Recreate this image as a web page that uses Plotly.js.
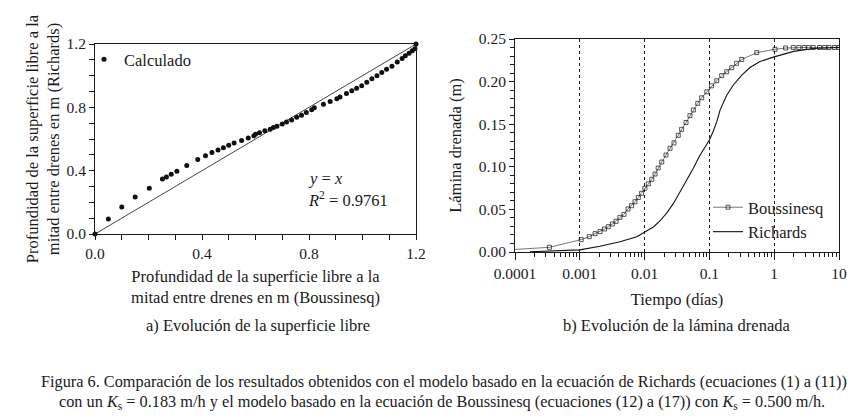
<!DOCTYPE html>
<html>
<head>
<meta charset="utf-8">
<script src="https://cdn.plot.ly/plotly-3.0.1.min.js"></script>
<style>
html,body{margin:0;padding:0;background:#fff;}
#chart{width:856px;height:418px;}
</style>
</head>
<body>
<div id="chart"></div>
<script>
// ---- Panel a) data: depth of free surface (Boussinesq vs Richards), m
const depthBoussinesq = [0.0, 0.05, 0.10, 0.15, 0.203, 0.252, 0.267, 0.285, 0.306, 0.343, 0.384, 0.413, 0.437, 0.46, 0.48, 0.50, 0.52, 0.548, 0.573, 0.594, 0.60, 0.615, 0.635, 0.655, 0.667, 0.68, 0.70, 0.716, 0.735, 0.754, 0.772, 0.79, 0.81, 0.82, 0.854, 0.879, 0.904, 0.916, 0.94, 0.96, 0.978, 0.997, 1.016, 1.035, 1.054, 1.072, 1.09, 1.11, 1.13, 1.148, 1.16, 1.174, 1.186, 1.196, 1.2];
const depthRichards   = [0.0, 0.095, 0.17, 0.234, 0.289, 0.347, 0.36, 0.378, 0.397, 0.433, 0.471, 0.494, 0.515, 0.53, 0.545, 0.56, 0.575, 0.59, 0.607, 0.62, 0.63, 0.64, 0.652, 0.662, 0.672, 0.68, 0.695, 0.708, 0.72, 0.737, 0.75, 0.767, 0.784, 0.797, 0.82, 0.837, 0.854, 0.865, 0.888, 0.905, 0.92, 0.937, 0.958, 0.98, 1.0, 1.02, 1.04, 1.06, 1.087, 1.108, 1.125, 1.142, 1.157, 1.17, 1.2];
const identityLine = [0, 1.2];

// ---- Panel b) data: drained depth (m) vs time (days)
const timeBoussinesq = [0.0001, 0.00034, 0.00105, 0.0014, 0.00172, 0.00205, 0.0024, 0.00275, 0.00318, 0.00363, 0.00417, 0.00481, 0.00555, 0.0063, 0.0071, 0.008, 0.009, 0.0101, 0.0114, 0.0129, 0.0145, 0.0162, 0.0184, 0.0214, 0.0247, 0.0284, 0.0331, 0.0373, 0.0436, 0.0501, 0.0565, 0.0661, 0.076, 0.0912, 0.108, 0.130, 0.155, 0.185, 0.221, 0.263, 0.316, 0.537, 1.03, 1.5, 1.97, 2.4, 2.9, 3.4, 4.0, 5.0, 6.0, 7.0, 8.5, 10];
const laminaBoussinesq = [0.003, 0.0055, 0.0145, 0.018, 0.0215, 0.024, 0.027, 0.0297, 0.0329, 0.036, 0.0407, 0.0442, 0.0505, 0.0543, 0.059, 0.064, 0.0689, 0.0748, 0.080, 0.0853, 0.0915, 0.0986, 0.1056, 0.1138, 0.1217, 0.128, 0.137, 0.144, 0.152, 0.160, 0.1667, 0.1745, 0.181, 0.188, 0.195, 0.201, 0.207, 0.2116, 0.2163, 0.2215, 0.226, 0.234, 0.238, 0.2394, 0.240, 0.240, 0.240, 0.240, 0.240, 0.240, 0.240, 0.240, 0.240, 0.240];
const timeRichards = [0.00017, 0.0005, 0.001, 0.00204, 0.00417, 0.0076, 0.01, 0.0138, 0.0174, 0.022, 0.0279, 0.0355, 0.0447, 0.0562, 0.0708, 0.0891, 0.1, 0.115, 0.130, 0.146, 0.164, 0.185, 0.234, 0.316, 0.423, 0.603, 1.0, 2.0, 3.98, 10];
const laminaRichards = [0.0003, 0.0012, 0.0025, 0.0068, 0.012, 0.018, 0.0235, 0.0297, 0.0367, 0.046, 0.057, 0.0708, 0.084, 0.098, 0.113, 0.126, 0.1315, 0.142, 0.153, 0.1665, 0.176, 0.184, 0.196, 0.2077, 0.2165, 0.2235, 0.229, 0.2355, 0.2388, 0.24];

const timeTickVals = [0.0001, 0.001, 0.01, 0.1, 1, 10];
const timeTickText = ['0.0001', '0.001', '0.01', '0.1', '1', '10'];

const SERIF = 'Liberation Serif, Times New Roman, serif';
const INK = '#1a1a1a';
const TS = 16.5;

const traces = [
  {
    x: identityLine, y: identityLine, xaxis: 'x', yaxis: 'y',
    mode: 'lines', line: {color: '#444', width: 1}, showlegend: false, hoverinfo: 'skip'
  },
  {
    x: depthBoussinesq, y: depthRichards, xaxis: 'x', yaxis: 'y',
    mode: 'markers', name: 'Calculado', legend: 'legend',
    marker: {color: '#111', size: 5, symbol: 'circle'}, cliponaxis: false
  },
  {
    x: timeBoussinesq, y: laminaBoussinesq, xaxis: 'x2', yaxis: 'y2',
    mode: 'lines+markers', name: 'Boussinesq', legend: 'legend2',
    line: {color: '#777', width: 1},
    marker: {symbol: 'square-open', color: '#111', size: timeBoussinesq.map((t, i) => i === 0 ? 0 : 4), line: {width: 1, color: '#111'}}
  },
  {
    x: timeRichards, y: laminaRichards, xaxis: 'x2', yaxis: 'y2',
    mode: 'lines', name: 'Richards', legend: 'legend2',
    line: {color: '#111', width: 1.1}
  }
];

const W = 856, H = 418;
const px = v => v / W, py = v => 1 - v / H;

const axisCommon = {
  showline: true, linecolor: INK, linewidth: 1, mirror: true,
  ticks: 'outside', ticklen: 5, tickwidth: 1, tickcolor: INK,
  showgrid: false, zeroline: false,
  tickfont: {family: SERIF, size: 15.5, color: INK}
};

const layout = {
  width: W, height: H,
  margin: {l: 0, r: 0, t: 0, b: 0},
  paper_bgcolor: '#fff', plot_bgcolor: '#fff',
  font: {family: SERIF, color: INK, size: TS},
  xaxis: Object.assign({}, axisCommon, {
    domain: [px(95), px(416)], range: [0, 1.2], anchor: 'y',
    tickvals: [0, 0.4, 0.8, 1.2], tickformat: '.1f',
    minor: {dtick: 0.1, ticklen: 5, tickcolor: INK, ticks: 'outside', showgrid: false},
    title: {text: 'Profundidad de la superficie libre a la<br>mitad entre drenes en m (Boussinesq)', font: {family: SERIF, size: TS, color: INK}, standoff: 9}
  }),
  yaxis: Object.assign({}, axisCommon, {
    domain: [py(234), py(44)], range: [0, 1.2], anchor: 'x',
    tickvals: [0, 0.4, 0.8, 1.2], tickformat: '.1f',
    minor: {dtick: 0.1, ticklen: 5, tickcolor: INK, ticks: 'outside', showgrid: false},
    title: {text: 'Profundidad de la superficie libre a la<br>mitad entre drenes en m (Richards)', font: {family: SERIF, size: TS, color: INK}, standoff: 2}
  }),
  xaxis2: Object.assign({}, axisCommon, {
    domain: [px(515), px(839)], type: 'log', range: [-4, 1], anchor: 'y2',
    tickvals: timeTickVals, ticktext: timeTickText,
    ticklen: 7,
    showgrid: true, gridcolor: INK, griddash: 'dot', gridwidth: 1,
    minor: {dtick: 'D1', ticklen: 4, tickcolor: INK, ticks: 'outside', showgrid: false},
    title: {text: 'Tiempo (días)', font: {family: SERIF, size: TS, color: INK}, standoff: 12}
  }),
  yaxis2: Object.assign({}, axisCommon, {
    domain: [py(252), py(39)], range: [0, 0.25], anchor: 'x2',
    dtick: 0.05, tick0: 0, tickformat: '.2f',
    minor: {dtick: 0.01, ticklen: 4, tickcolor: INK, ticks: 'outside', showgrid: false},
    title: {text: 'Lámina drenada (m)', font: {family: SERIF, size: TS, color: INK}, standoff: 13}
  }),
  legend: {
    x: px(84), y: py(42), xanchor: 'left', yanchor: 'top',
    bgcolor: 'rgba(0,0,0,0)', borderwidth: 0,
    font: {family: SERIF, size: TS, color: INK}, itemwidth: 30, tracegroupgap: 0
  },
  legend2: {
    x: px(708), y: py(190), xanchor: 'left', yanchor: 'top',
    bgcolor: 'rgba(0,0,0,0)', borderwidth: 0,
    font: {family: SERIF, size: TS, color: INK}, itemwidth: 30, tracegroupgap: 0
  },
  annotations: [
    {xref: 'paper', yref: 'paper', x: px(306), y: py(179), xanchor: 'left', yanchor: 'middle', showarrow: false,
     text: '<i>y</i> = <i>x</i>', font: {family: SERIF, size: TS, color: INK}},
    {xref: 'paper', yref: 'paper', x: px(306), y: py(199), xanchor: 'left', yanchor: 'middle', showarrow: false,
     text: '<i>R</i><sup>2</sup> = 0.9761', font: {family: SERIF, size: TS, color: INK}},
    {xref: 'paper', yref: 'paper', x: px(258), y: py(325), xanchor: 'center', yanchor: 'middle', showarrow: false,
     text: 'a) Evolución de la superficie libre', font: {family: SERIF, size: TS, color: INK}},
    {xref: 'paper', yref: 'paper', x: px(676), y: py(325), xanchor: 'center', yanchor: 'middle', showarrow: false,
     text: 'b) Evolución de la lámina drenada', font: {family: SERIF, size: TS, color: INK}},
    {xref: 'paper', yref: 'paper', x: px(444), y: py(381), xanchor: 'center', yanchor: 'middle', showarrow: false,
     text: 'Figura 6. Comparación de los resultados obtenidos con el modelo basado en la ecuación de Richards (ecuaciones (1) a (11))', font: {family: SERIF, size: 16.3, color: INK}},
    {xref: 'paper', yref: 'paper', x: px(442), y: py(402), xanchor: 'center', yanchor: 'middle', showarrow: false,
     text: 'con un <i>K</i><sub>s</sub> = 0.183 m/h y el modelo basado en la ecuación de Boussinesq (ecuaciones (12) a (17)) con <i>K</i><sub>s</sub> = 0.500 m/h.', font: {family: SERIF, size: 16.3, color: INK}}
  ]
};

Plotly.newPlot('chart', traces, layout, {staticPlot: true, displayModeBar: false});
</script>
</body>
</html>
